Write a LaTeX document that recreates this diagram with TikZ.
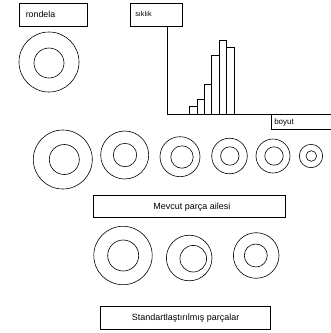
\documentclass[tikz,border=0pt]{standalone}
\usepackage{fontspec}
\setmainfont{Liberation Sans}
\begin{document}
\begin{tikzpicture}[x=1pt,y=-1pt,line width=0.6pt,
  lbl/.style={inner sep=0pt}]
\useasboundingbox (0,0) rectangle (331,333);
% boxes
\draw (19,3) rectangle (87,26);
\node[lbl,anchor=west,font=\fontsize{8.8}{10}\selectfont] (rondela) at (25.5,14.3) {rondela};
\draw (130,3) rectangle (182,26);
\node[lbl,anchor=west,font=\fontsize{7.2}{8}\selectfont] (siklik) at (135,13.8) {sıklık};
\draw (271,114) rectangle (331,129);
\node[lbl,anchor=west,font=\fontsize{8}{9}\selectfont] (boyut) at (274,122.5) {boyut};
\draw (93.3,195.7) rectangle (285.7,217.7);
\node[lbl,font=\fontsize{9}{10}\selectfont] (mevcut) at (192,206.7) {Mevcut parça ailesi};
\draw (100.7,306.7) rectangle (270.7,329.3);
\node[lbl,font=\fontsize{9}{10}\selectfont] (std) at (185.7,318) {Standartlaştırılmış parçalar};
% axes
\coordinate (o) at (167,114);
\draw (167,26) -- (o) -- (331,114);
% bars
\draw (189.3,114) rectangle (197,106.7);
\draw (197,114) rectangle (204.3,99);
\draw (204.3,114) rectangle (211.7,84.7);
\draw (211.7,114) rectangle (219,55);
\draw (219,114) rectangle (226.7,40);
\draw (226.7,114) rectangle (234,47.3);
% rondela ring
\draw (49,62) circle (30);
\draw (49,63) circle (15);
% existing family
\draw (62.8,159.5) circle (29.5); \draw (64.3,159.5) circle (15);
\draw (124.7,155) circle (24); \draw (125,155) circle (11.7);
\draw (180,156.7) circle (20); \draw (182,157) circle (11.2);
\draw (229.5,156) circle (17.8); \draw (229.8,156) circle (9.2);
\draw (273,156) circle (17); \draw (274,156) circle (9.2);
\draw (311,156) circle (11.7); \draw (311.3,156) circle (5.3);
% standardized
\draw (123,255.5) circle (29.2); \draw (123.2,255.5) circle (15.5);
\draw (189.2,258) circle (22.8); \draw (193.3,258.7) circle (13.3);
\draw (256.2,255.5) circle (22.8); \draw (255.8,255.5) circle (11.5);
\end{tikzpicture}
\end{document}
